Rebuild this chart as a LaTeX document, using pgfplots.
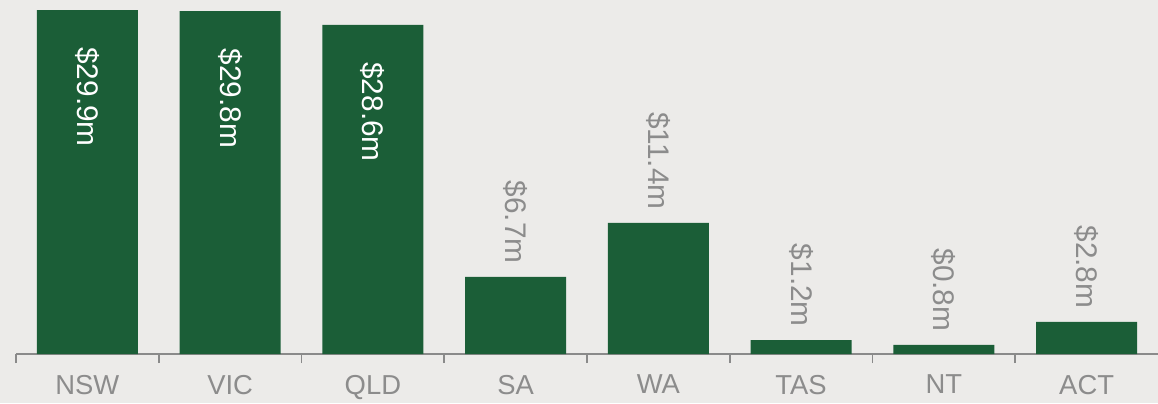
\documentclass[border=0pt]{standalone}
\usepackage{pgfplots}
\pgfplotsset{compat=1.18}
\usepackage{graphicx}
\usepackage{fontspec}
\setmainfont{Liberation Sans}
\definecolor{bg}{RGB}{236,235,233}
\definecolor{bargreen}{RGB}{27,94,55}
\definecolor{txtgrey}{RGB}{140,140,140}
\definecolor{axgrey}{RGB}{138,138,138}
\begin{document}
\begin{tikzpicture}
\fill[bg] (0,0) rectangle (579pt,201.5pt);
\path[use as bounding box] (0,0) rectangle (579pt,201.5pt);
\begin{axis}[
  at={(8pt,24.5pt)}, anchor=south west,
  scale only axis, width=571pt, height=177pt,
  xmin=-0.5, xmax=7.5, ymin=0, ymax=30.77,
  axis x line*=bottom, axis y line=none,
  x axis line style={axgrey, line width=0.9pt},
  xtick={0,...,7}, xticklabels={NSW,VIC,QLD,SA,WA,TAS,NT,ACT},
  major tick length=0pt,
  minor xtick={-0.5,0.5,...,6.5}, minor tick length=4.5pt, tick align=outside,
  minor x tick style={axgrey, line width=0.8pt},
  xticklabel style={font=\fontsize{13.7}{14}\selectfont, text=txtgrey, yshift=-7pt},
  ytick=\empty,
  ybar, bar width=0.706, bar shift=0pt,
  clip=false,
  /pgf/number format/assume math mode=true,
]
\addplot[fill=bargreen, draw=none] coordinates {(0,29.9) (1,29.8) (2,28.6) (3,6.7) (4,11.4) (5,1.2) (6,0.8) (7,2.8)};
\addplot[draw=none, fill=none,
  nodes near coords={\rotatebox{-90}{\$\pgfmathprintnumber[fixed,precision=1,fixed zerofill,assume math mode=true]{\pgfplotspointmeta}m}},
  nodes near coords style={anchor=north, inner sep=0pt, yshift=-18.5pt, text=white, font=\fontsize{14.9}{16}\selectfont}]
  coordinates {(0,29.9) (1,29.8) (2,28.6)};
\addplot[draw=none, fill=none,
  nodes near coords={\rotatebox{-90}{\$\pgfmathprintnumber[fixed,precision=1,fixed zerofill,assume math mode=true]{\pgfplotspointmeta}m}},
  nodes near coords style={anchor=south, inner sep=0pt, yshift=6.5pt, text=txtgrey, font=\fontsize{14.9}{16}\selectfont}]
  coordinates {(3,6.7) (4,11.4) (5,1.2) (6,0.8) (7,2.8)};
\end{axis}
\end{tikzpicture}
\end{document}
